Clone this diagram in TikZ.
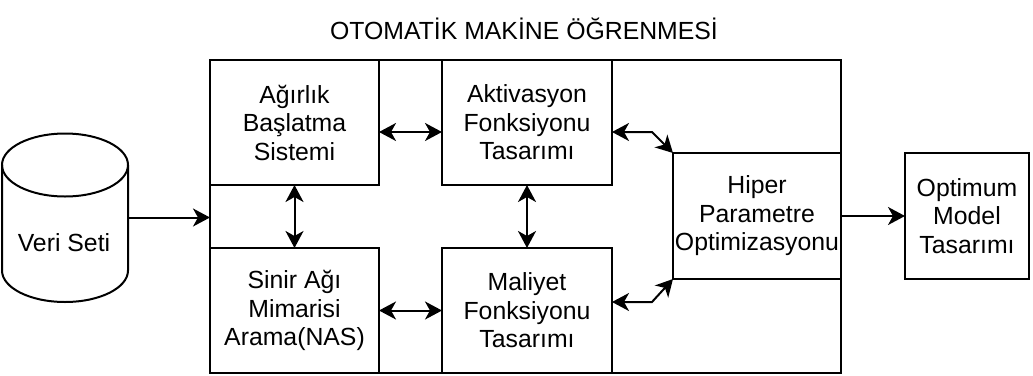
\documentclass[tikz,border=0pt]{standalone}
\usepackage{fontspec}
\setmainfont{Liberation Sans}
\usetikzlibrary{arrows.meta,calc}
\begin{document}
\begin{tikzpicture}[x=1pt,y=-1pt,line width=2pt,
  txt/.style={font=\fontsize{24.8}{28.5}\selectfont,align=center},
  box/.style={draw,txt,inner sep=0pt,outer sep=0pt},
  tip/.style={Stealth[length=17pt,width=18pt,inset=5pt]},
  biarrow/.style={{Stealth[length=17pt,width=18pt,inset=5pt]}-{Stealth[length=17pt,width=18pt,inset=5pt]}},
  onearrow/.style={-{Stealth[length=17pt,width=18pt,inset=5pt]}}]
\useasboundingbox (0,0) rectangle (1033,375);
% title
\node[txt] (title) at (524,29) {OTOMATİK MAKİNE ÖĞRENMESİ};
% container
\node[draw,inner sep=0pt,outer sep=0pt,minimum width=631pt,minimum height=313pt] (auto) at (525.5,216.5) {};
% inner boxes
\node[box,minimum width=169pt,minimum height=125pt] (agr) at (294.5,122.5) {Ağırlık\\Başlatma\\Sistemi};
\node[box,minimum width=170pt,minimum height=125pt] (akt) at (527,122.5) {Aktivasyon\\Fonksiyonu\\Tasarımı};
\node[box,minimum width=169pt,minimum height=125pt] (sin) at (294.5,310.5) {Sinir Ağı\\Mimarisi\\Arama(NAS)};
\node[box,minimum width=170pt,minimum height=125pt] (mal) at (527,310.5) {Maliyet\\Fonksiyonu\\Tasarımı};
\node[box,fill=white,minimum width=168pt,minimum height=126pt] (hip) at (757,216) {Hiper\\Parametre\\Optimizasyonu};
\node[box,minimum width=124pt,minimum height=126pt] (opt) at (967,216) {Optimum\\Model\\Tasarımı};
% cylinder
\draw (2,165) -- (2,270.5) arc[start angle=180,end angle=360,x radius=63pt,y radius=31.5pt] -- (128,165);
\draw (65,165) ellipse[x radius=63,y radius=31.5];
\node[inner sep=0pt,outer sep=0pt,minimum width=126pt,minimum height=169pt] (veri) at (65,217.5) {};
\node[txt] (veritxt) at (64,243) {Veri Seti};
% connectors
\coordinate (b1) at (652,132);
\coordinate (b2) at (652,302);
\draw[onearrow] (veri.east) -- (auto.west |- veri.east);
\draw[biarrow] (agr.east |- b1) -- (akt.west |- b1);
\draw[biarrow] (sin.east) -- (mal.west);
\draw[biarrow] (agr.south) -- (sin.north);
\draw[biarrow] (akt.south) -- (mal.north);
\draw[biarrow] (akt.east |- b1) -- (b1) -- (hip.north west);
\draw[biarrow] (mal.east |- b2) -- (b2) -- (hip.south west);
\draw[onearrow] (hip.east) -- (opt.west);
\end{tikzpicture}
\end{document}
